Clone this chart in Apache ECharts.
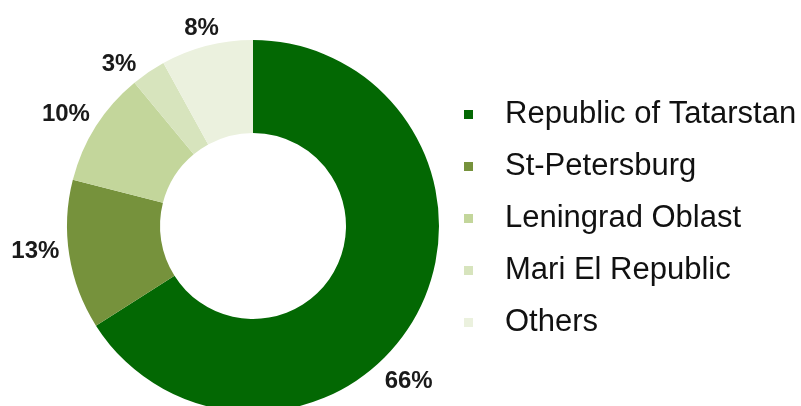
<!DOCTYPE html>
<html>
<head>
<meta charset="utf-8">
<script src="https://cdn.jsdelivr.net/npm/echarts@6/dist/echarts.min.js"></script>
<style>
  html, body { margin: 0; padding: 0; background: #fff; }
  #chart { width: 801px; height: 406px; }
</style>
</head>
<body>
<div id="chart"></div>
<script>
// Regional breakdown (share, %)
const regions = ['Republic of Tatarstan', 'St-Petersburg', 'Leningrad Oblast', 'Mari El Republic', 'Others'];
const shares = [66, 13, 10, 3, 8];
const sliceColors = ['#036803', '#76923c', '#c3d69b', '#d7e4bd', '#ebf1de'];

// Donut geometry
const CENTER = [253, 226];
const R_INNER = 93;
const R_OUTER = 186;
const LABEL_GAP = 8;
const LABEL_FONT = 24;
const GLYPH_DROP = 3; // digits sit slightly low in their text box
// small angular shifts (degrees, clockwise) so value labels sit clear of neighbours
const labelAngleShift = [15.5, 3, -1, -5, 0];

const total = shares.reduce((a, b) => a + b, 0);
const midAngles = [];
let acc = 0;
shares.forEach(v => {
  midAngles.push(360 * (acc + v / 2) / total);
  acc += v;
});

const chart = echarts.init(document.getElementById('chart'), null, { renderer: 'canvas' });

const pieData = regions.map((name, i) => ({
  name: name,
  value: shares[i],
  itemStyle: { color: sliceColors[i] }
}));

chart.setOption({
  animation: false,
  backgroundColor: '#ffffff',
  legend: {
    orient: 'vertical',
    left: 459,
    top: 94,
    itemWidth: 9,
    itemHeight: 9,
    itemGap: 21,
    icon: 'rect',
    textStyle: {
      fontFamily: 'Liberation Sans, Arial, sans-serif',
      fontSize: 31,
      lineHeight: 31,
      color: '#111111',
      padding: [0, 0, 0, 27]
    },
    data: regions
  },
  series: [{
    type: 'pie',
    center: CENTER,
    radius: [R_INNER, R_OUTER],
    startAngle: 90,
    clockwise: true,
    avoidLabelOverlap: false,
    label: {
      show: true,
      position: 'outside',
      formatter: '{c}%',
      fontFamily: 'Liberation Sans, Arial, sans-serif',
      fontWeight: 'bold',
      fontSize: LABEL_FONT,
      color: '#1a1a1a'
    },
    labelLine: { show: false },
    // place each value label just outside the ring, centred on its slice direction
    labelLayout: function (params) {
      const i = params.dataIndex;
      const theta = (midAngles[i] + labelAngleShift[i]) * Math.PI / 180;
      const dx = Math.sin(theta);
      const dy = -Math.cos(theta);
      const w = params.labelRect.width;
      const h = LABEL_FONT * 0.75; // visible glyph height
      const ext = Math.abs(dx) * w / 2 + Math.abs(dy) * h / 2;
      const r = R_OUTER + LABEL_GAP + ext;
      return {
        x: CENTER[0] + dx * r,
        y: CENTER[1] + dy * r + GLYPH_DROP,
        align: 'center',
        verticalAlign: 'middle'
      };
    },
    emphasis: { disabled: true },
    data: pieData
  }]
});
</script>
</body>
</html>
